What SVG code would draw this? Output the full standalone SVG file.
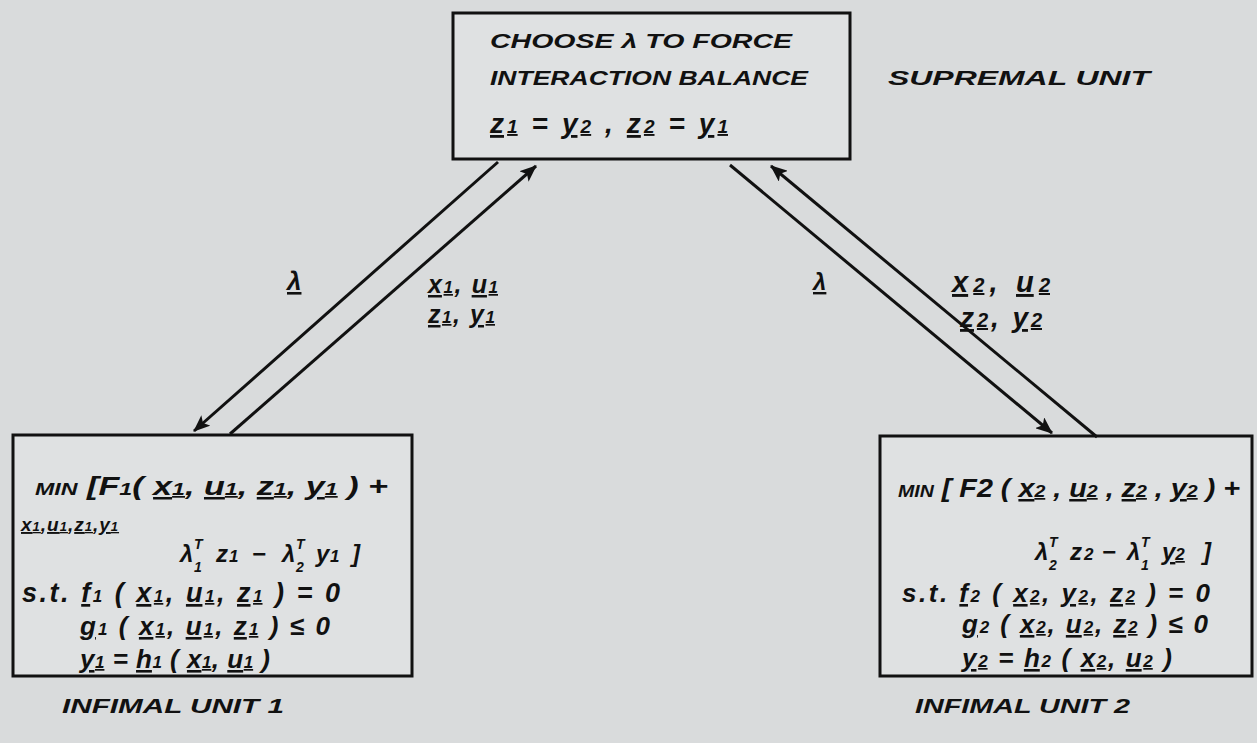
<svg xmlns="http://www.w3.org/2000/svg" width="1257" height="743" viewBox="0 0 1257 743">
<style>
.box{fill:#dfe1e2;stroke:#111;stroke-width:3}
.c{stroke:#111;stroke-width:3;fill:none}
.h{font-family:"Liberation Sans",Arial,sans-serif;font-style:italic;font-weight:bold;font-size:20px;fill:#111}
.m{font-family:"Liberation Sans",Arial,sans-serif;font-style:italic;font-weight:bold;font-size:25px;fill:#111}
.s{font-size:17px}
.t{font-size:14px}
.u{text-decoration:underline}
.sm{font-size:17px}
</style>
<defs>
<marker id="ah" markerUnits="userSpaceOnUse" markerWidth="18" markerHeight="14" refX="16" refY="7" orient="auto">
<path d="M0,0 L17,7 L0,14 L4,7 z" fill="#111"/>
</marker>
</defs>
<rect width="1257" height="743" fill="#d9dbdc"/>

<g id="supremal">
<rect class="box" x="453" y="13" width="397" height="146"/>
<text class="h" x="490" y="48" textLength="302" lengthAdjust="spacingAndGlyphs">CHOOSE λ TO FORCE</text>
<text class="h" x="490" y="85" textLength="318" lengthAdjust="spacingAndGlyphs">INTERACTION BALANCE</text>
<text class="m" x="490" y="133" style="font-size:28px" textLength="238" lengthAdjust="spacing"><tspan class="u">z<tspan style="font-size:19px">1</tspan></tspan> = <tspan class="u">y<tspan style="font-size:19px">2</tspan></tspan>  ,  <tspan class="u">z<tspan style="font-size:19px">2</tspan></tspan> = <tspan class="u">y<tspan style="font-size:19px">1</tspan></tspan></text>
</g>
<g id="supremal-label">
<text class="h" x="888" y="85" textLength="262" lengthAdjust="spacingAndGlyphs">SUPREMAL  UNIT</text>
</g>

<g id="infimal1">
<rect class="box" x="13" y="435" width="399" height="241"/>
<text class="m" x="35" y="495" textLength="353" lengthAdjust="spacingAndGlyphs"><tspan class="sm">MIN</tspan>  [F<tspan class="s">1</tspan>( <tspan class="u">x<tspan class="s">1</tspan></tspan>, <tspan class="u">u<tspan class="s">1</tspan></tspan>, <tspan class="u">z<tspan class="s">1</tspan></tspan>, <tspan class="u">y<tspan class="s">1</tspan></tspan> ) +</text>
<text class="m" x="21" y="531" style="font-size:19px;letter-spacing:1px"><tspan class="u">x<tspan style="font-size:13px">1</tspan></tspan>,<tspan class="u">u<tspan style="font-size:13px">1</tspan></tspan>,<tspan class="u">z<tspan style="font-size:13px">1</tspan></tspan>,<tspan class="u">y<tspan style="font-size:13px">1</tspan></tspan></text>
<text class="m" y="562" style="font-size:24px"><tspan x="180">λ</tspan><tspan class="t" x="194" y="549">T</tspan><tspan class="t" x="194" y="572">1</tspan><tspan x="216" y="562">z</tspan><tspan class="s" x="229">1</tspan><tspan x="252">−</tspan><tspan x="282">λ</tspan><tspan class="t" x="296" y="549">T</tspan><tspan class="t" x="296" y="572">2</tspan><tspan x="316" y="562">y</tspan><tspan class="s" x="330">1</tspan><tspan x="352">]</tspan></text>
<text class="m" x="22" y="602" style="font-size:27px" textLength="318" lengthAdjust="spacing">s.t. <tspan class="u">f</tspan><tspan class="s">1</tspan> ( <tspan class="u">x<tspan class="s">1</tspan></tspan>, <tspan class="u">u<tspan class="s">1</tspan></tspan>, <tspan class="u">z<tspan class="s">1</tspan></tspan> ) = 0</text>
<text class="m" x="80" y="635" style="font-size:26px" textLength="250" lengthAdjust="spacing"><tspan class="u">g</tspan><tspan class="s">1</tspan> ( <tspan class="u">x<tspan class="s">1</tspan></tspan>, <tspan class="u">u<tspan class="s">1</tspan></tspan>, <tspan class="u">z<tspan class="s">1</tspan></tspan> ) ≤ 0</text>
<text class="m" x="80" y="668" style="font-size:26px" textLength="190" lengthAdjust="spacing"><tspan class="u">y<tspan class="s">1</tspan></tspan> = <tspan class="u">h</tspan><tspan class="s">1</tspan> ( <tspan class="u">x<tspan class="s">1</tspan></tspan>, <tspan class="u">u<tspan class="s">1</tspan></tspan> )</text>
</g>
<g id="infimal1-label">
<text class="h" x="62" y="713" textLength="222" lengthAdjust="spacingAndGlyphs">INFIMAL  UNIT 1</text>
</g>

<g id="infimal2">
<rect class="box" x="880" y="436" width="372" height="240"/>
<text class="m" x="898" y="497" textLength="342" lengthAdjust="spacingAndGlyphs"><tspan class="sm">MIN</tspan> [ F2 ( <tspan class="u">x<tspan class="s">2</tspan></tspan> , <tspan class="u">u<tspan class="s">2</tspan></tspan> , <tspan class="u">z<tspan class="s">2</tspan></tspan> , <tspan class="u">y<tspan class="s">2</tspan></tspan> ) +</text>
<text class="m" y="560" style="font-size:24px"><tspan x="1035">λ</tspan><tspan class="t" x="1049" y="547">T</tspan><tspan class="t" x="1049" y="570">2</tspan><tspan x="1070" y="560">z</tspan><tspan class="s" x="1084">2</tspan><tspan x="1102">−</tspan><tspan x="1127">λ</tspan><tspan class="t" x="1141" y="547">T</tspan><tspan class="t" x="1141" y="570">1</tspan><tspan class="u" x="1162" y="560">y<tspan class="s">2</tspan></tspan><tspan x="1203">]</tspan></text>
<text class="m" x="902" y="602" style="font-size:26px" textLength="308" lengthAdjust="spacing">s.t. <tspan class="u">f</tspan><tspan class="s">2</tspan> ( <tspan class="u">x<tspan class="s">2</tspan></tspan>, <tspan class="u">y<tspan class="s">2</tspan></tspan>, <tspan class="u">z<tspan class="s">2</tspan></tspan> ) = 0</text>
<text class="m" x="962" y="633" style="font-size:26px" textLength="246" lengthAdjust="spacing"><tspan class="u">g</tspan><tspan class="s">2</tspan> ( <tspan class="u">x<tspan class="s">2</tspan></tspan>, <tspan class="u">u<tspan class="s">2</tspan></tspan>, <tspan class="u">z<tspan class="s">2</tspan></tspan> ) ≤ 0</text>
<text class="m" x="962" y="667" style="font-size:26px" textLength="210" lengthAdjust="spacing"><tspan class="u">y<tspan class="s">2</tspan></tspan> = <tspan class="u">h</tspan><tspan class="s">2</tspan> ( <tspan class="u">x<tspan class="s">2</tspan></tspan>, <tspan class="u">u<tspan class="s">2</tspan></tspan> )</text>
</g>
<g id="infimal2-label">
<text class="h" x="915" y="713" textLength="215" lengthAdjust="spacingAndGlyphs">INFIMAL  UNIT 2</text>
</g>

<g id="connectors">
<line class="c" x1="498" y1="162" x2="194" y2="431" marker-end="url(#ah)"/>
<line class="c" x1="230" y1="434" x2="536" y2="166" marker-end="url(#ah)"/>
<line class="c" x1="730" y1="165" x2="1052" y2="433" marker-end="url(#ah)"/>
<line class="c" x1="1097" y1="437" x2="771" y2="166" marker-end="url(#ah)"/>
<text class="m" x="287" y="290" style="font-size:26px"><tspan class="u">λ</tspan></text>
<text class="m" x="428" y="293" textLength="70" lengthAdjust="spacing"><tspan class="u">x<tspan class="s">1</tspan></tspan>, <tspan class="u">u<tspan class="s">1</tspan></tspan></text>
<text class="m" x="428" y="323" textLength="67" lengthAdjust="spacing"><tspan class="u">z<tspan class="s">1</tspan></tspan>, <tspan class="u">y<tspan class="s">1</tspan></tspan></text>
<text class="m" x="813" y="290" style="font-size:24px"><tspan class="u">λ</tspan></text>
<text class="m" x="952" y="292" style="font-size:29px" textLength="98" lengthAdjust="spacing"><tspan class="u">x<tspan style="font-size:20px">2</tspan></tspan>, <tspan class="u">u<tspan style="font-size:20px">2</tspan></tspan></text>
<text class="m" x="960" y="327" style="font-size:28px" textLength="82" lengthAdjust="spacing"><tspan class="u">z<tspan style="font-size:20px">2</tspan></tspan>, <tspan class="u">y<tspan style="font-size:20px">2</tspan></tspan></text>
</g>
</svg>
